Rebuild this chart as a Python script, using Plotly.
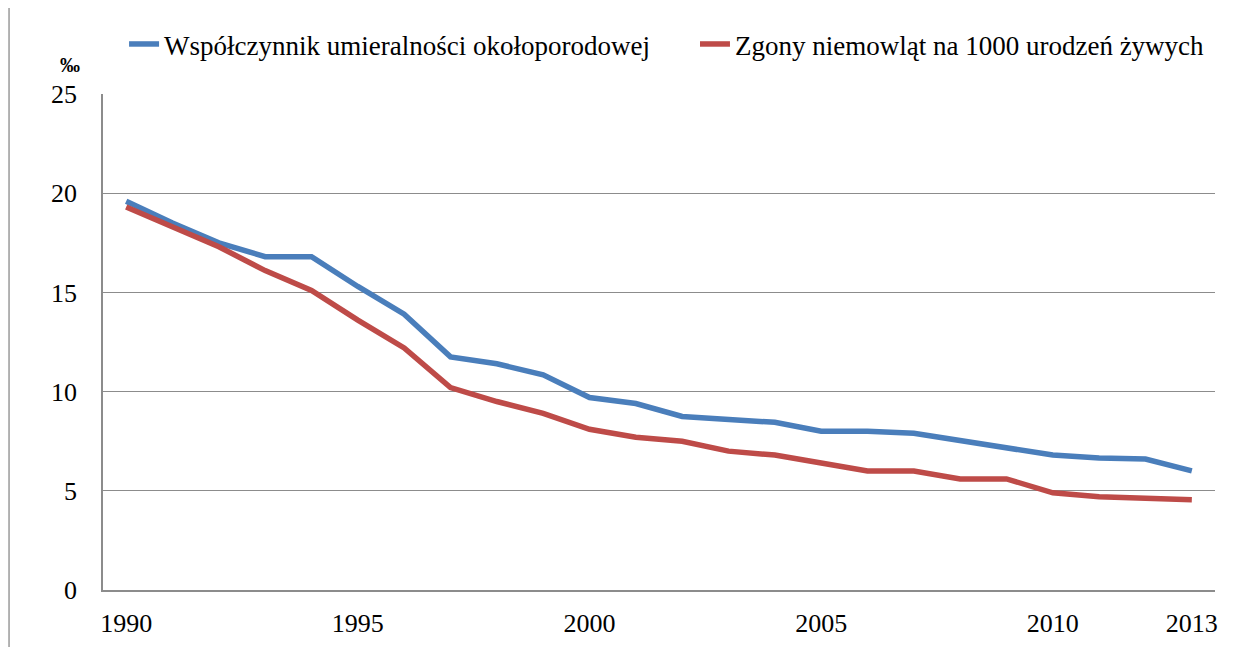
import plotly.graph_objects as go

years = list(range(1990, 2014))
perinatal = [19.6, 18.5, 17.5, 16.8, 16.8, 15.3, 13.9, 11.75, 11.4, 10.85, 9.7, 9.4,
             8.75, 8.6, 8.45, 8.0, 8.0, 7.9, 7.55, 7.15, 6.8, 6.65, 6.6, 6.0]
infant = [19.3, 18.3, 17.3, 16.1, 15.1, 13.6, 12.2, 10.2, 9.5, 8.9, 8.1, 7.7,
          7.5, 7.0, 6.8, 6.4, 6.0, 6.0, 5.6, 5.6, 4.9, 4.7, 4.6, 4.55]
shown_years = [1990, 1995, 2000, 2005, 2010, 2013]

font_family = "Liberation Serif"
grid = "#8c8c8c"

fig = go.Figure()
fig.add_trace(go.Scatter(x=years, y=perinatal, mode="lines",
                         name="Współczynnik umieralności okołoporodowej",
                         line=dict(color="#4a7ebb", width=5.5), legend="legend"))
fig.add_trace(go.Scatter(x=years, y=infant, mode="lines",
                         name="Zgony niemowląt na 1000 urodzeń żywych",
                         line=dict(color="#be4b48", width=5.5), legend="legend2"))

fig.update_xaxes(range=[1989.5, 2013.5], tickvals=shown_years,
                 ticktext=[str(y) for y in shown_years],
                 showgrid=False, zeroline=False, showline=True,
                 linecolor=grid, linewidth=1.5, ticks="", ticklabelstandoff=9)
fig.update_yaxes(range=[0, 25], dtick=5, showgrid=True, gridcolor=grid,
                 gridwidth=1, zeroline=False, showline=True, linecolor=grid,
                 linewidth=1.5, ticks="", ticklabelstandoff=19)

fig.add_annotation(text="<b>‰</b>", xref="paper", yref="paper",
                   x=-0.0297, y=1.058, showarrow=False, xanchor="center",
                   yanchor="middle", font=dict(size=20, color="black"))

# thin frame line on the left edge of the chart area
fig.add_shape(type="line", xref="paper", yref="paper", x0=-0.0845, x1=-0.0845,
              y0=-0.2, y1=1.25, line=dict(color="#9a9a9a", width=1.5))

legend_style = dict(orientation="h", xref="container", yref="container",
                    y=0.943, xanchor="left", yanchor="middle",
                    font=dict(family=font_family, size=27, color="black"),
                    bgcolor="rgba(0,0,0,0)", itemwidth=30)

fig.update_layout(
    width=1236, height=639,
    margin=dict(l=95, r=29, t=86, b=57, autoexpand=False),
    paper_bgcolor="white", plot_bgcolor="white",
    font=dict(family=font_family, size=26, color="black"),
    showlegend=True,
    legend=dict(x=0.0939, **legend_style),
    legend2=dict(x=0.5558, **legend_style),
)

fig.write_html("out.html")
